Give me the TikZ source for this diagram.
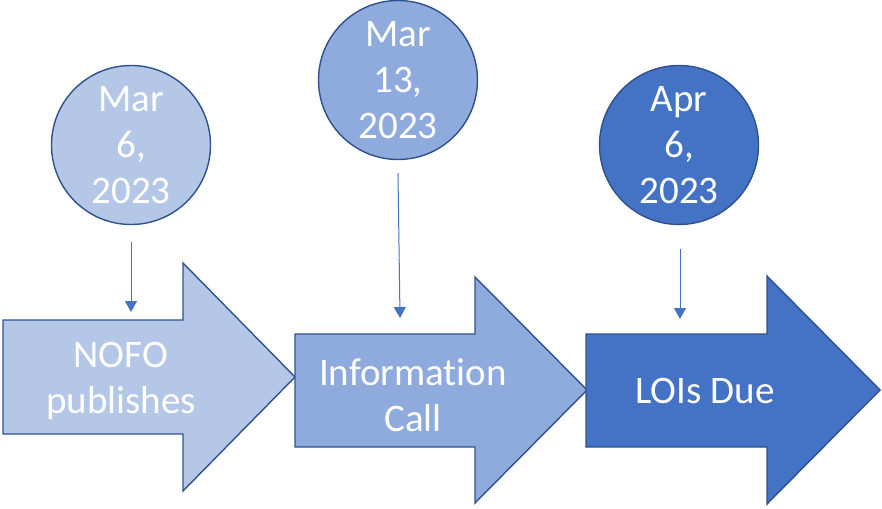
\documentclass[tikz,border=0pt]{standalone}
\usepackage{fontspec}
\setmainfont{Carlito}[Ligatures=NoCommon]
\usetikzlibrary{arrows.meta}
\definecolor{paleblue}{HTML}{B4C7E7}
\definecolor{midblue}{HTML}{8FAADC}
\definecolor{deepblue}{HTML}{4472C4}
\definecolor{edgeblue}{HTML}{2F528F}
\tikzset{
  stepshape/.style={draw=edgeblue, line width=1.4pt, line join=miter},
  datecircle/.style={circle, draw=edgeblue, line width=1.4pt, minimum size=159pt, inner sep=0pt,
    text=white, align=center, font=\fontsize{39}{46}\selectfont},
  steplabel/.style={text=white, align=center, font=\fontsize{39}{46}\selectfont, inner sep=0pt},
  pointer/.style={draw=deepblue, line width=1pt, -{Triangle[width=12pt,length=11pt]}}
}
\begin{document}
\begin{tikzpicture}[x=1pt, y=-1pt]
  \useasboundingbox (0,0) rectangle (882,508);

  % timeline step arrows
  \filldraw[stepshape, fill=paleblue]
    (3,320) -- (183,320) -- (183,263) -- (295,377) -- (183,491) -- (183,434) -- (3,434) -- cycle;
  \filldraw[stepshape, fill=midblue]
    (295,334) -- (475,334) -- (475,277) -- (587,390) -- (475,503) -- (475,447) -- (295,447) -- cycle;
  \filldraw[stepshape, fill=deepblue]
    (586,334) -- (767,334) -- (767,276) -- (880,390) -- (767,504) -- (767,447) -- (586,447) -- cycle;

  % step labels
  \node[steplabel] (s1) at (121,381) {NOFO\\publishes};
  \node[steplabel] (s2) at (413,395) {Information\\Call};
  \node[steplabel] (s3) at (705,391) {LOIs Due};

  % date circles
  \node[datecircle, fill=paleblue] (c1) at (131,145) {Mar\\6,\\2023};
  \node[datecircle, fill=midblue]  (c2) at (398,80)  {Mar\\13,\\2023};
  \node[datecircle, fill=deepblue] (c3) at (679,145) {Apr\\6,\\2023};

  % pointers from dates to steps
  \coordinate (p1) at (131,312);
  \coordinate (p2) at (400,318);
  \coordinate (p3) at (680,319);
  \draw[pointer] ([yshift=-17pt]c1.south) -- (p1);
  \draw[pointer] ([yshift=-13pt]c2.south) -- (p2);
  \draw[pointer] ([xshift=1pt,yshift=-24pt]c3.south) -- (p3);
\end{tikzpicture}
\end{document}
